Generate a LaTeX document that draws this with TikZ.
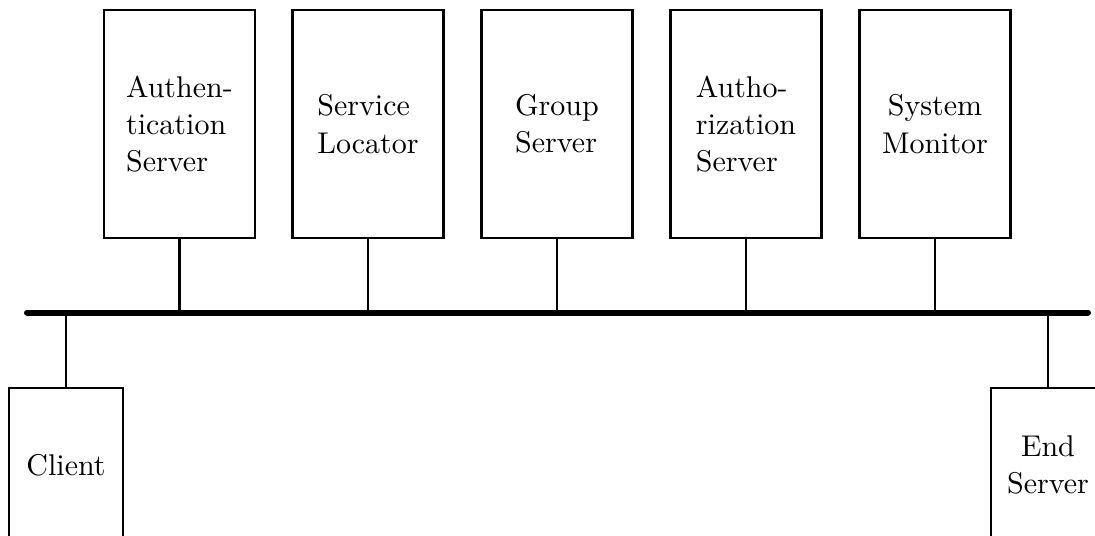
\documentclass[tikz,border=0pt]{standalone}
\usetikzlibrary{calc}

\tikzset{
    srvbox/.style={draw, line width=0.7pt, minimum width=50.3pt, minimum height=75.7pt, align=left, font=\fontsize{10}{12.4}\selectfont},
    hostbox/.style={draw, line width=0.7pt, minimum width=38pt, minimum height=51.3pt, align=center, font=\fontsize{10}{12.4}\selectfont},
    bus/.style={line width=2pt, line cap=round},
    tap/.style={line width=0.7pt}
}

\begin{document}
\begin{tikzpicture}[x=0.3333pt, y=-0.3333pt]
            \useasboundingbox (0,0) rectangle (1095,536);
            \clip (0,0) rectangle (1095,536);

            % servers on top of the bus
            \node[srvbox] (authen) at (179.5,124){Authen-\\tication\\Server};
            \node[srvbox] (locator) at (368,124){Service\\Locator};
            \node[srvbox] (group) at (557,124){Group\\Server};
            \node[srvbox] (author) at (746,124){Autho-\\rization\\Server};
            \node[srvbox, align=center] (monitor) at (935,124){System\\Monitor};

            % hosts below the bus
            \node[hostbox] (client) at (66,465){Client};
            \node[hostbox] (endsrv) at (1048,465){End\\Server};

            \coordinate (busL) at (27,312.5);
            \coordinate (busR) at (1088,312.5);
            \draw[bus] (busL) -- (busR);

            \draw[tap] (authen.south) -- (authen.south |- busL);
            \draw[tap] (locator.south) -- (locator.south |- busL);
            \draw[tap] (group.south) -- (group.south |- busL);
            \draw[tap] (author.south) -- (author.south |- busL);
            \draw[tap] (monitor.south) -- (monitor.south |- busL);
            \draw[tap] (client.north) -- (client.north |- busL);
            \draw[tap] (endsrv.north) -- (endsrv.north |- busR);
\end{tikzpicture}
\end{document}
